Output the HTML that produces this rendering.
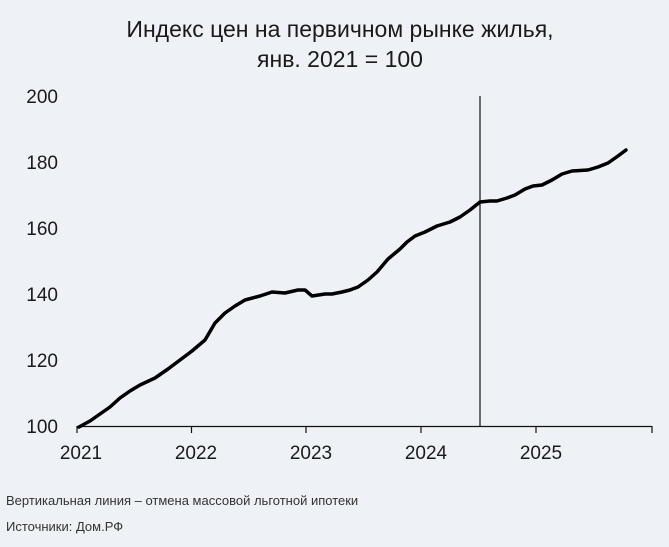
<!DOCTYPE html>
<html><head><meta charset="utf-8"><style>
html,body{margin:0;padding:0;background:#eef2f6;}
svg{display:block;}
</style></head><body>
<svg width="669" height="547" viewBox="0 0 669 547" xmlns="http://www.w3.org/2000/svg" font-family="Liberation Sans, sans-serif">
<rect width="669" height="547" fill="#eef2f6"/>
<text x="340" y="37" text-anchor="middle" font-size="23" fill="#1a1a1a">Индекс цен на первичном рынке жилья,</text>
<text x="340" y="67" text-anchor="middle" font-size="23" fill="#1a1a1a">янв. 2021 = 100</text>
<g font-size="19" fill="#1a1a1a" text-anchor="end">
<text x="58" y="103">200</text>
<text x="58" y="169">180</text>
<text x="58" y="235">160</text>
<text x="58" y="301">140</text>
<text x="58" y="367">120</text>
<text x="58" y="433">100</text>
</g>
<line x1="77" y1="426.5" x2="652" y2="426.5" stroke="#111" stroke-width="1.2"/>
<g stroke="#111" stroke-width="1.2">
<line x1="77" y1="426" x2="77" y2="433"/>
<line x1="191.5" y1="426" x2="191.5" y2="433"/>
<line x1="306" y1="426" x2="306" y2="433"/>
<line x1="421" y1="426" x2="421" y2="433"/>
<line x1="536" y1="426" x2="536" y2="433"/>
<line x1="652" y1="426" x2="652" y2="433"/>
</g>
<line x1="480" y1="96" x2="480" y2="426" stroke="#111" stroke-width="1.2"/>
<g font-size="19" fill="#1a1a1a" text-anchor="middle">
<text x="81" y="459">2021</text>
<text x="196" y="459">2022</text>
<text x="311" y="459">2023</text>
<text x="426" y="459">2024</text>
<text x="541" y="459">2025</text>
</g>
<polyline fill="none" stroke="#000" stroke-width="3.5" stroke-linejoin="round" stroke-linecap="round"
points="79,427 90,421 100,414 110,407 120,398 130,391 140,385 155,378 168,369 180,360 192,351 205,340 215,323 225,313 235,306 245,300 260,296 272,292 285,293 298,290 305,290 312,296 325,294 332,294 342,292 350,290 358,287 368,280 377,272 388,259 400,249 407,242 415,236 425,232 437,226 450,222 460,217 470,210 480,202 490,201 497,201 507,198 515,195 525,189 533,186 542,185 552,180 562,174 572,171 588,170 598,167 608,163 618,156 626,150"/>
<text x="6" y="505" font-size="13" fill="#333">Вертикальная линия – отмена массовой льготной ипотеки</text>
<text x="6" y="531" font-size="13" fill="#333">Источники: Дом.РФ</text>
</svg>
</body></html>
